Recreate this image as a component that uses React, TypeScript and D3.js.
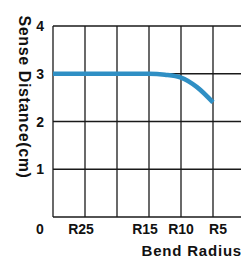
import { useMemo } from 'react'
import * as d3 from 'd3'

const WIDTH = 241
const HEIGHT = 261
const MARGIN = { top: 26, right: -4, bottom: 44, left: 53 }

// x grid positions: 0 .. 6 (last one falls off the right edge)
const xTickPos = [0, 1, 2, 3, 4, 5, 6]
const xTickLabels = ['0', 'R25', '', 'R15', 'R10', 'R5', '']
const yTicks = [0, 1, 2, 3, 4]

// curve
const curveX = [0, 1, 2, 3, 3.5, 4, 4.5, 5]
const curveY = [3, 3, 3, 3, 2.98, 2.92, 2.72, 2.4]

const FONT = 'Liberation Sans, Arial, sans-serif'

export default function App() {
  const boundsWidth = WIDTH - MARGIN.left - MARGIN.right
  const boundsHeight = HEIGHT - MARGIN.top - MARGIN.bottom

  const xScale = useMemo(
    () => d3.scaleLinear().domain([0, 6]).range([0, boundsWidth]),
    [boundsWidth]
  )
  const yScale = useMemo(
    () => d3.scaleLinear().domain([0, 4]).range([boundsHeight, 0]),
    [boundsHeight]
  )

  const path = useMemo(() => {
    const line = d3
      .line<number>()
      .x((d, i) => xScale(curveX[i]))
      .y((d) => yScale(d))
      .curve(d3.curveMonotoneX)
    return line(curveY) || ''
  }, [xScale, yScale])

  // small nudges so labels sit where the original put them
  const labelShift = [0, -4, 0, -4, 0, 5, 0]

  return (
    <svg
      width={WIDTH}
      height={HEIGHT}
      style={{ position: 'fixed', left: 0, top: 0, background: 'white' }}
    >
      <g transform={`translate(${MARGIN.left},${MARGIN.top})`}>
        {/* grid */}
        {yTicks.map((t) => (
          <line
            key={'h' + t}
            x1={0}
            x2={boundsWidth}
            y1={yScale(t)}
            y2={yScale(t)}
            stroke="#1a1a1a"
            strokeWidth={1.3}
          />
        ))}
        {xTickPos.map((t) => (
          <line
            key={'v' + t}
            x1={xScale(t)}
            x2={xScale(t)}
            y1={0}
            y2={boundsHeight}
            stroke="#1a1a1a"
            strokeWidth={1.3}
          />
        ))}

        {/* curve */}
        <path
          d={path}
          fill="none"
          stroke="#2f8fc4"
          strokeWidth={4.5}
          strokeLinecap="butt"
        />

        {/* y tick labels */}
        {yTicks
          .filter((t) => t > 0)
          .map((t) => (
            <text
              key={'yl' + t}
              x={-9}
              y={yScale(t)}
              dy="0.36em"
              textAnchor="end"
              fontFamily={FONT}
              fontWeight="bold"
              fontSize={14}
              fill="#111"
            >
              {t}
            </text>
          ))}

        {/* x tick labels */}
        {xTickPos.map((t, i) =>
          xTickLabels[i] ? (
            <text
              key={'xl' + t}
              x={i === 0 ? -13 : xScale(t) + labelShift[i]}
              y={boundsHeight + 17}
              textAnchor="middle"
              fontFamily={FONT}
              fontWeight="bold"
              fontSize={14}
              fill="#111"
            >
              {xTickLabels[i]}
            </text>
          ) : null
        )}
      </g>

      {/* axis titles */}
      <text
        transform={`translate(${19},${97}) rotate(90)`}
        textAnchor="middle"
        fontFamily={FONT}
        fontWeight="bold"
        fontSize={16}
        letterSpacing={0.6}
        fill="#111"
      >
        Sense Distance(cm)
      </text>
      <text
        x={WIDTH + 1}
        y={256}
        textAnchor="end"
        fontFamily={FONT}
        fontWeight="bold"
        fontSize={15}
        letterSpacing={0.8}
        fill="#111"
      >
        Bend Radius
      </text>
    </svg>
  )
}
